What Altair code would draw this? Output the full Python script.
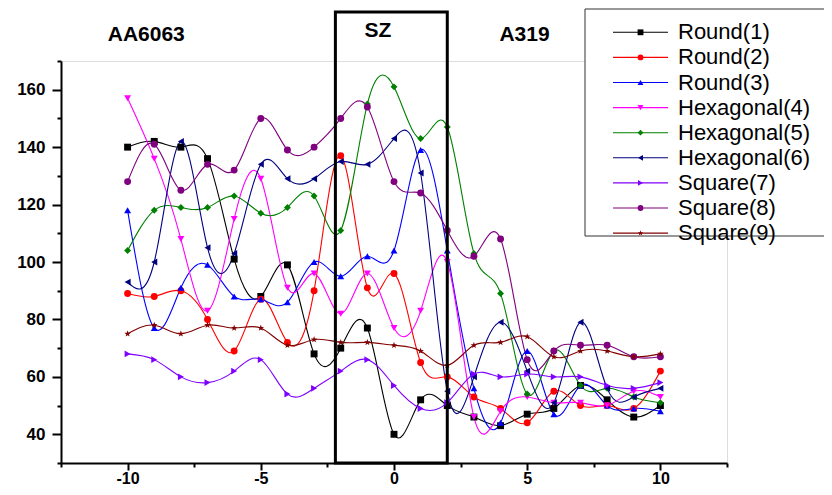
import altair as alt
import pandas as pd

# ---------------- data ----------------
x_vals = list(range(-10, 11))
series_names = ["Round(1)", "Round(2)", "Round(3)", "Hexagonal(4)", "Hexagonal(5)",
                "Hexagonal(6)", "Square(7)", "Square(8)", "Square(9)"]

round1 = [140, 142, 140, 136, 101, 88, 99, 68, 70, 77, 40, 52, 50, 46, 43, 47, 49, 57, 52, 46, 50]
round2 = [89, 88, 90, 80, 69, 87, 72, 90, 137, 91, 96, 65, 60, 53, 49, 44, 55, 50, 50, 49, 62]
round3 = [118, 77, 91, 99, 88, 87, 86, 100, 95, 102, 104, 139, 104, 56, 44, 69, 47, 57, 50, 49, 48]
hexa4 = [157, 136, 108, 83, 115, 129, 91, 96, 82, 96, 77, 83, 100, 46, 48, 53, 51, 51, 50, 55, 53]
hexa5 = [104, 118, 119, 119, 123, 117, 119, 123, 111, 155, 161, 143, 147, 103, 89, 54, 69, 57, 56, 53, 51]
hexa6 = [93, 100, 142, 105, 103, 134, 129, 129, 135, 134, 143, 131, 55, 60, 79, 62, 51, 79, 56, 53, 56]
square7 = [68, 66, 60, 58, 62, 66, 54, 56, 62, 66, 57, 49, 51, 61, 60, 61, 60, 60, 57, 56, 58]
square8 = [128, 141, 125, 134, 132, 150, 139, 140, 150, 154, 128, 124, 111, 102, 108, 66, 69, 71, 71, 67, 67]
square9 = [75, 78, 75, 78, 77, 77, 71, 73, 72, 72, 71, 69, 64, 71, 72, 74, 67, 69, 69, 67, 68]

all_series = [round1, round2, round3, hexa4, hexa5, hexa6, square7, square8, square9]

colors = ["#000000", "#FF0000", "#0000FF", "#FF00FF", "#008000",
          "#000080", "#8000FF", "#800080", "#800000"]
star_path = ("M0,-1L0.235,-0.324L0.951,-0.309L0.38,0.124L0.588,0.809L0,0.4"
             "L-0.588,0.809L-0.38,0.124L-0.951,-0.309L-0.235,-0.324Z")
shapes = ["square", "circle", "triangle-up", "triangle-down", "diamond",
          "triangle-left", "triangle-right", "circle", star_path]

zone_labels = ["AA6063", "SZ", "A319"]
zone_label_x = [-9.3, -0.6, 4.9]
sz_left, sz_right = -2.2, 2.0

# ---------------- tables ----------------
rows = []
for name, vals in zip(series_names, all_series):
    for xv, yv in zip(x_vals, vals):
        rows.append({"series": name, "x": xv, "y": yv})
df = pd.DataFrame(rows)

W, H = 666, 402
leg_top_row = -28.7
leg_step = 25.1
leg_df = pd.DataFrame({"series": series_names})
leg_df["ly"] = [leg_top_row + leg_step * i for i in range(len(series_names))]

ann_df = pd.DataFrame({"label": zone_labels, "ax": zone_label_x,
                       "ay": [-26.5, -30.5, -26.5]})
sz_df = pd.DataFrame({"x0": [sz_left], "x1": [sz_right]})
one = pd.DataFrame({"k": [0]})

# ---------------- scales / axes ----------------
xscale = alt.Scale(domain=[-12.5, 12.5], nice=False, zero=False)
yscale = alt.Scale(domain=[30, 170], nice=False, zero=False)
cscale = alt.Scale(domain=series_names, range=colors)
sscale = alt.Scale(domain=series_names, range=shapes)

common_axis = dict(grid=False, domainColor="black", domainWidth=2, tickColor="black",
                   tickWidth=2, labelFont="Liberation Sans",
                   labelFontWeight="bold", labelColor="black", labelOverlap=False,
                   labelFlush=False, title=None)

xaxis = alt.Axis(values=[-12.5 + 2.5 * i for i in range(11)],
                 labelExpr="datum.value % 5 === 0 ? toString(datum.value) : ''",
                 tickSize={"condition": {"test": "datum.value % 5 === 0", "value": 7}, "value": 4},
                 labelPadding=0, labelFontSize=16, **common_axis)
yaxis = alt.Axis(values=list(range(30, 171, 10)),
                 labelExpr="datum.value % 20 === 0 ? toString(datum.value) : ''",
                 tickSize={"condition": {"test": "datum.value % 20 === 0", "value": 9}, "value": 4},
                 labelPadding=7, labelFontSize=17, **common_axis)

# ---------------- data layers ----------------
base = alt.Chart(df).encode(
    x=alt.X("x:Q", scale=xscale, axis=xaxis),
    y=alt.Y("y:Q", scale=yscale, axis=yaxis),
    color=alt.Color("series:N", scale=cscale, legend=None),
)
lines = base.mark_line(interpolate="natural", strokeWidth=1.1)
points = base.mark_point(filled=True, size=48, opacity=1).encode(
    shape=alt.Shape("series:N", scale=sscale, legend=None))

main = alt.layer(lines, points)

# ---------------- annotation / legend layer (pixel y) ----------------
sz_box = alt.Chart(sz_df).mark_rect(fillOpacity=0, stroke="black", strokeWidth=3).encode(
    x=alt.X("x0:Q", scale=xscale), x2="x1:Q",
    y=alt.value(-49), y2=alt.value(H))

ann = alt.Chart(ann_df).mark_text(font="Liberation Sans", fontWeight="bold",
                                  fontSize=21, color="black",
                                  baseline="middle", align="center").encode(
    x=alt.X("ax:Q", scale=xscale),
    y=alt.Y("ay:Q", scale=None, axis=None),
    text="label:N")

leg_box = alt.Chart(one).mark_rect(fill="white", stroke="#333333", strokeWidth=1).encode(
    x=alt.value(524), x2=alt.value(900), y=alt.value(-52), y2=alt.value(175))

leg_lines = alt.Chart(leg_df).mark_rule(strokeWidth=1.1).encode(
    x=alt.value(552), x2=alt.value(607),
    y=alt.Y("ly:Q", scale=None, axis=None),
    color=alt.Color("series:N", scale=cscale, legend=None))

leg_pts = alt.Chart(leg_df).mark_point(filled=True, size=34, opacity=1).encode(
    x=alt.value(579.5),
    y=alt.Y("ly:Q", scale=None, axis=None),
    color=alt.Color("series:N", scale=cscale, legend=None),
    shape=alt.Shape("series:N", scale=sscale, legend=None))

leg_txt = alt.Chart(leg_df).mark_text(align="left", baseline="middle",
                                      font="Liberation Sans", fontSize=22,
                                      color="black").encode(
    x=alt.value(617),
    y=alt.Y("ly:Q", scale=None, axis=None),
    text="series:N")

overlay = alt.layer(sz_box, ann, leg_box, leg_lines, leg_pts, leg_txt)

chart = alt.layer(main, overlay).resolve_scale(y="independent").properties(
    width=W, height=H,
    autosize=alt.AutoSizeParams(type="none"),
    padding={"left": 53, "top": 53, "right": 97, "bottom": 24},
).configure_view(stroke=None).configure(background="white")

chart.save("out.html", embed_options={"renderer": "svg", "actions": False})
